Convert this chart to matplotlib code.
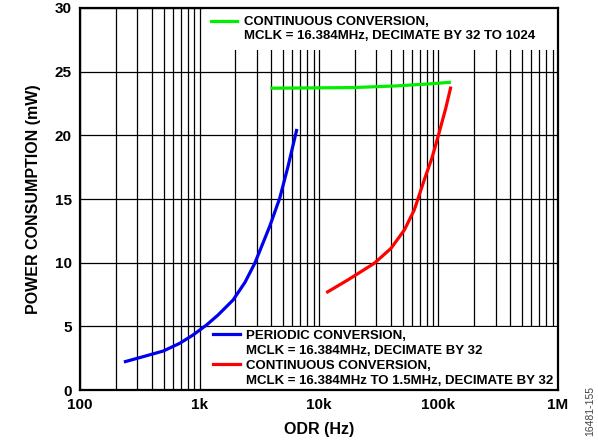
import numpy as np
import matplotlib.pyplot as plt
from matplotlib.lines import Line2D

plt.rcParams['font.family'] = ['Liberation Sans', 'DejaVu Sans']

# Periodic conversion, MCLK = 16.384MHz, decimate by 32
odr_periodic = [233, 338, 497, 684, 883, 1143, 1429, 1910, 2400, 2900, 3860, 4690, 5500, 6530]
p_periodic = [2.2, 2.62, 3.06, 3.67, 4.32, 5.1, 5.89, 7.07, 8.45, 9.95, 12.83, 15.06, 17.54, 20.5]

# Continuous conversion, MCLK = 16.384MHz to 1.5MHz, decimate by 32
odr_cont_mclk = [11500, 17400, 29000, 40100, 51800, 62700, 76000, 88000, 100000, 115000, 127000]
p_cont_mclk = [7.64, 8.64, 9.95, 11.13, 12.57, 14.14, 16.5, 18.2, 20.03, 22.13, 23.83]

# Continuous conversion, MCLK = 16.384MHz, decimate by 32 to 1024
odr_cont_dec = [3920, 19200, 44000, 84000, 127000]
p_cont_dec = [23.7, 23.75, 23.88, 24.04, 24.17]

x_ticks = [100, 1e3, 1e4, 1e5, 1e6]
x_labels = ['100', '1k', '10k', '100k', '1M']
y_ticks = [0, 5, 10, 15, 20, 25, 30]

fig = plt.figure(figsize=(5.98, 4.44), dpi=100)
ax = fig.add_axes([0.1338, 0.1216, 0.7993, 0.8604])

ax.plot(odr_cont_dec, p_cont_dec, color='#00ee00', lw=2.3, zorder=6, solid_capstyle='butt')
ax.plot(odr_periodic, p_periodic, color='#0000ee', lw=2.3, zorder=6, solid_capstyle='butt')
ax.plot(odr_cont_mclk, p_cont_mclk, color='#ff0000', lw=2.3, zorder=6, solid_capstyle='butt')

ax.set_xscale('log')
ax.set_xlim(100, 1e6)
ax.set_ylim(0, 30)
ax.set_xticks(x_ticks)
ax.set_xticklabels(x_labels)
ax.set_yticks(y_ticks)
ax.tick_params(which='both', length=0, pad=6, labelsize=11)
for lab in ax.get_xticklabels() + ax.get_yticklabels():
    lab.set_fontweight('bold')
ax.grid(True, which='both', color='black', lw=0.9)
ax.set_axisbelow(True)
for s in ax.spines.values():
    s.set_linewidth(1.6)
    s.set_zorder(7)

ax.set_xlabel('ODR (Hz)', fontsize=11.5, fontweight='bold', labelpad=7)
ax.set_ylabel('POWER CONSUMPTION (mW)', fontsize=11.5, fontweight='bold', labelpad=10)

blank = Line2D([], [], color='none')
leg_kw = dict(prop={'weight': 'bold', 'size': 9.5}, frameon=True, fancybox=False,
              framealpha=1, edgecolor='none', facecolor='white', borderaxespad=0,
              handlelength=2.0, handletextpad=0.5, mode='expand')

top = ax.legend([Line2D([], [], color='#00ee00', lw=2.3), blank],
                ['CONTINUOUS CONVERSION,', 'MCLK = 16.384MHz, DECIMATE BY 32 TO 1024'],
                loc='upper right', bbox_to_anchor=(0.257, 0, 0.743, 1),
                labelspacing=0.15, borderpad=0.6, **leg_kw)
top.set_zorder(5)
ax.add_artist(top)

bot = ax.legend([Line2D([], [], color='#0000ee', lw=2.3), blank,
                 Line2D([], [], color='#ff0000', lw=2.3), blank],
                ['PERIODIC CONVERSION,', 'MCLK = 16.384MHz, DECIMATE BY 32',
                 'CONTINUOUS CONVERSION,', 'MCLK = 16.384MHz TO 1.5MHz, DECIMATE BY 32'],
                loc='lower right', bbox_to_anchor=(0.272, 0, 0.728, 1),
                labelspacing=0.2, borderpad=0.25, **leg_kw)
bot.set_zorder(5)

fig.text(0.987, 0.075, '16481-155', rotation=90, fontsize=7.5, color='#444444',
         ha='center', va='center')

plt.savefig('out.png', dpi=100)
